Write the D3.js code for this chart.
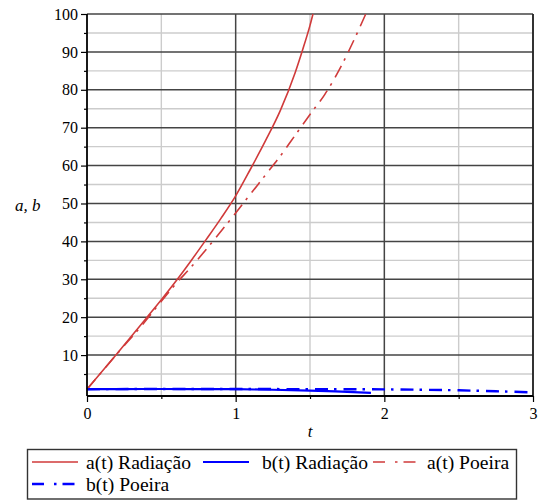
<!DOCTYPE html>
<html>
<head>
<meta charset="utf-8">
<script src="https://cdn.jsdelivr.net/npm/d3@7/dist/d3.min.js"></script>
<style>
  html, body { margin: 0; padding: 0; background: #fff; }
  svg { display: block; }
  svg text { font-family: "Liberation Serif", "Times New Roman", "DejaVu Serif", serif; }
</style>
</head>
<body>
<svg id="chart" width="542" height="501"></svg>
<script>
// Scale factors a(t), b(t) for the radiation and dust solutions
const tRadA = [0, 0.2, 0.4, 0.5, 0.6, 0.7, 0.8, 0.9, 1.0, 1.1, 1.2, 1.3, 1.4, 1.45, 1.5, 1.52];
const aRad  = [1, 10.3, 19.8, 24.6, 29.6, 34.9, 40.4, 46, 52, 59.1, 66.5, 74.5, 84.5, 90.5, 97, 100];

const tRadB = [0, 0.25, 0.5, 0.75, 1.0, 1.25, 1.5, 1.75, 1.91];
const bRad  = [1, 1.03, 1.05, 1.03, 1.0, 0.85, 0.6, 0.3, 0];

const tDustA = [0, 0.2, 0.4, 0.5, 0.6, 0.7, 0.8, 0.9, 1.0, 1.1, 1.2, 1.3, 1.4, 1.5, 1.6, 1.7, 1.8, 1.875];
const aDust  = [1, 10.2, 19.3, 24.2, 28.9, 33.2, 37.8, 42.6, 47.5, 52.5, 57.5, 62.5, 68, 73.5, 78.8, 85.5, 93.5, 100];

const tDustB = [0, 0.5, 1.0, 1.5, 2.0, 2.25, 2.5, 2.75, 3.0];
const bDust  = [1, 1.05, 1.05, 1.0, 0.95, 0.85, 0.7, 0.45, 0.15];

const xMajor = [0, 1, 2, 3];
const xMinor = [0.5, 1.5, 2.5];
const yMajor = [10, 20, 30, 40, 50, 60, 70, 80, 90, 100];
const yMinor = [5, 15, 25, 35, 45, 55, 65, 75, 85, 95];

const series = [
  { name: "a(t) Radiação", t: tRadA, v: aRad, color: "#d03a3a", dash: null, width: 1.6 },
  { name: "b(t) Radiação", t: tRadB, v: bRad, color: "#0000ff", dash: null, width: 2.2 },
  { name: "a(t) Poeira",   t: tDustA, v: aDust, color: "#d03a3a", dash: "13,6,2.5,7", width: 1.6 },
  { name: "b(t) Poeira",   t: tDustB, v: bDust, color: "#0000ff", dash: "13,6,2.5,7", width: 2.4 }
];

const serif = "'Liberation Serif', 'Times New Roman', 'DejaVu Serif', serif";
const svg = d3.select("#chart");
const mLeft = 87, mRight = 533, mTop = 14, mBottom = 396;

const x = d3.scaleLinear().domain([0, 3]).range([mLeft, mRight]);
const y = d3.scaleLinear().domain([-0.8, 100]).range([mBottom, mTop]);

// grid
const grid = svg.append("g");
grid.selectAll(".gxm").data(xMinor).join("line")
  .attr("x1", d => x(d)).attr("x2", d => x(d)).attr("y1", mTop).attr("y2", mBottom)
  .attr("stroke", "#cccccc").attr("stroke-width", 1.4);
grid.selectAll(".gym").data(yMinor).join("line")
  .attr("y1", d => y(d)).attr("y2", d => y(d)).attr("x1", mLeft).attr("x2", mRight)
  .attr("stroke", "#cccccc").attr("stroke-width", 1.4);
grid.selectAll(".gxM").data(xMajor.filter(d => d > 0)).join("line")
  .attr("x1", d => x(d)).attr("x2", d => x(d)).attr("y1", mTop).attr("y2", mBottom)
  .attr("stroke", "#444444").attr("stroke-width", 1.5);
grid.selectAll(".gyM").data(yMajor).join("line")
  .attr("y1", d => y(d)).attr("y2", d => y(d)).attr("x1", mLeft).attr("x2", mRight)
  .attr("stroke", "#444444").attr("stroke-width", 1.5);

// curves
const line = d3.line().x(d => x(d[0])).y(d => y(d[1])).curve(d3.curveMonotoneX);
const plot = svg.append("g");
series.forEach(s => {
  plot.append("path")
    .datum(s.t.map((t, i) => [t, s.v[i]]))
    .attr("d", line)
    .attr("fill", "none")
    .attr("stroke", s.color)
    .attr("stroke-width", s.width)
    .attr("stroke-dasharray", s.dash);
});

// axes
const yAxisMajor = d3.axisLeft(y).tickValues(yMajor).tickSize(6).tickPadding(3).tickFormat(d3.format("d"));
const yAxisMinor = d3.axisLeft(y).tickValues(yMinor).tickSize(3).tickFormat("");
const xAxisMajor = d3.axisBottom(x).tickValues(xMajor).tickSize(6).tickPadding(6).tickFormat(d3.format("d"));
const xAxisMinor = d3.axisBottom(x).tickValues(xMinor).tickSize(3).tickFormat("");

function styleAxis(g) {
  g.attr("font-family", serif);
  g.select(".domain").remove();
  g.selectAll(".tick line").attr("stroke", "#000").attr("stroke-width", 1.2);
  g.selectAll(".tick text").attr("fill", "#000").attr("font-family", serif).style("font-size", "16px");
}

svg.append("g").attr("transform", `translate(${mLeft},0)`).call(yAxisMinor).call(styleAxis);
svg.append("g").attr("transform", `translate(${mLeft},0)`).call(yAxisMajor).call(styleAxis);
svg.append("g").attr("transform", `translate(0,${mBottom})`).call(xAxisMinor).call(styleAxis);
svg.append("g").attr("transform", `translate(0,${mBottom})`).call(xAxisMajor).call(styleAxis);

// frame
svg.append("line").attr("x1", mRight).attr("x2", mRight).attr("y1", mTop).attr("y2", mBottom)
  .attr("stroke", "#222").attr("stroke-width", 1.6);
svg.append("line").attr("x1", mLeft).attr("x2", mLeft).attr("y1", mTop).attr("y2", mBottom)
  .attr("stroke", "#000").attr("stroke-width", 1.8);
svg.append("line").attr("x1", mLeft).attr("x2", mRight).attr("y1", mBottom).attr("y2", mBottom)
  .attr("stroke", "#000").attr("stroke-width", 1.8);

// axis titles
svg.append("text").attr("x", 15).attr("y", 211).attr("font-family", serif)
  .style("font-style", "italic").style("font-size", "17px").text("a, b");
svg.append("text").attr("x", 310).attr("y", 437).attr("text-anchor", "middle").attr("font-family", serif)
  .style("font-style", "italic").style("font-size", "17px").text("t");

// legend
const legend = svg.append("g");
legend.append("rect").attr("x", 27.5).attr("y", 449.5).attr("width", 489).attr("height", 49.5)
  .attr("fill", "#fff").attr("stroke", "#333").attr("stroke-width", 1.4);

const legendPos = [
  { lx: 32, tx: 86, y: 462 },
  { lx: 203, tx: 262, y: 462 },
  { lx: 373, tx: 427, y: 462 },
  { lx: 32, tx: 86, y: 484 }
];
const legendDash = "12,10,2.5,6";
series.forEach((s, i) => {
  const p = legendPos[i];
  legend.append("line")
    .attr("x1", p.lx).attr("x2", p.lx + 46).attr("y1", p.y).attr("y2", p.y)
    .attr("stroke", s.color).attr("stroke-width", s.width)
    .attr("stroke-dasharray", s.dash ? legendDash : null);
  legend.append("text").attr("x", p.tx).attr("y", p.y + 7).attr("font-family", serif)
    .style("font-size", "19.6px").text(s.name);
});
</script>
</body>
</html>
